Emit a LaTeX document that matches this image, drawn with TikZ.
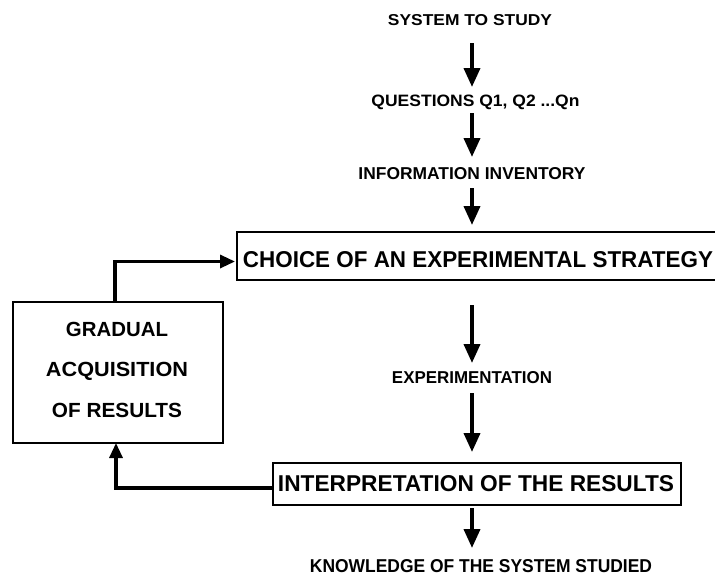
\documentclass[tikz,border=0pt]{standalone}
\usepackage{fontspec}
\usepackage{graphicx}
\setmainfont{Liberation Sans}
\usetikzlibrary{arrows.meta}
\newcommand\fitt[3]{\resizebox{#1pt}{#2pt}{\bfseries #3}}
\tikzset{
  lbl/.style={inner sep=0pt, outer sep=0pt, anchor=base},
  boxed/.style={draw, line width=1.5pt, inner sep=0pt, outer sep=0pt},
  arr/.style={line width=3.8pt, -{Triangle[length=19pt,width=16pt]}},
  fb/.style={line width=3.2pt, -{Triangle[length=15pt,width=13pt]}}
}
\begin{document}
\begin{tikzpicture}[x=1pt,y=-1pt]
\fill[white] (0,0) rectangle (715,576);
\useasboundingbox (0,0) rectangle (715,576);
\clip (0,0) rectangle (715,576);
\coordinate (axis) at (472,0);

% text labels
\node[lbl] (sys)  at (470,25)   {\fitt{164}{11}{SYSTEM TO STUDY}};
\node[lbl] (q)    at (475.5,106){\fitt{208}{11.5}{QUESTIONS Q1, Q2 ...Qn}};
\node[lbl] (info) at (472,179)  {\fitt{227}{12}{INFORMATION INVENTORY}};
\node[lbl] (exp)  at (472,383)  {\fitt{160}{12}{EXPERIMENTATION}};
\node[lbl] (know) at (481,572)  {\fitt{342}{13}{KNOWLEDGE OF THE SYSTEM STUDIED}};

% boxes
\node[boxed, minimum width=483pt, minimum height=48pt] (choice) at (478.5,256) {};
\node[lbl] (choicet) at (478,267) {\fitt{470}{16}{CHOICE OF AN EXPERIMENTAL STRATEGY}};

\node[boxed, minimum width=408pt, minimum height=42pt] (interp) at (477,484) {};
\node[lbl] (interpt) at (476,491.7) {\fitt{396}{16}{INTERPRETATION OF THE RESULTS}};

\node[boxed, minimum width=210pt, minimum height=141pt] (grad) at (118,372.5) {};
\node[inner sep=0pt, anchor=north, align=center, font=\fontsize{20pt}{40.5pt}\selectfont] (gradt) at (117,321.7)
  {\fitt{102}{14.3}{GRADUAL}\\ \fitt{142}{14.3}{ACQUISITION}\\ \fitt{130}{14.3}{OF RESULTS}};

% main vertical arrows
\draw[arr, shorten <=18pt, shorten >=7.5pt] (sys.south -| axis) -- (q.north -| axis);
\draw[arr, shorten <=4pt, shorten >=10pt] (q.south -| axis) -- (info.north -| axis);
\draw[arr, shorten <=9pt, shorten >=7pt] (info.south -| axis) -- (choice.north -| axis);
\draw[arr, shorten <=25pt, shorten >=8pt] (choice.south -| axis) -- (exp.north -| axis);
\draw[arr, shorten <=10pt, shorten >=11pt] (exp.south -| axis) -- (interp.north -| axis);
\draw[arr, shorten <=3pt, shorten >=11pt] (interp.south -| axis) -- (know.north -| axis);

% feedback loop
\draw[fb, shorten >=2pt] ([xshift=-3pt]grad.north) |- ([yshift=-5.5pt]choice.west);
\draw[fb] ([yshift=-4pt]interp.west) -| ([xshift=-2pt]grad.south);
\end{tikzpicture}
\end{document}
